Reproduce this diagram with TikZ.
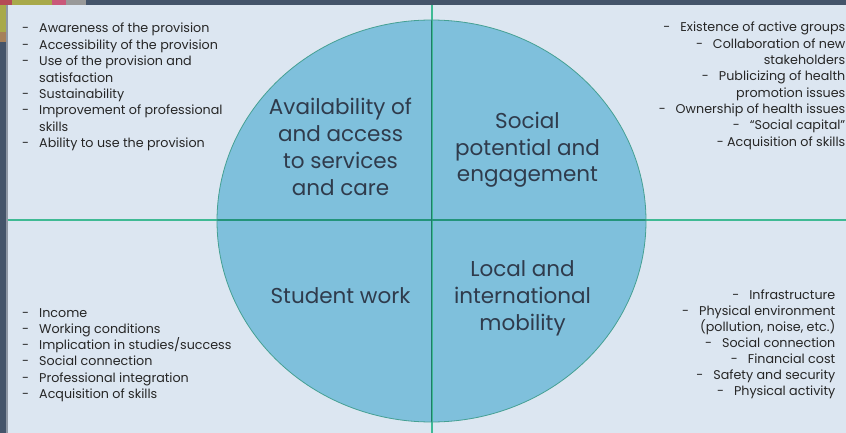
\documentclass[tikz,border=0pt]{standalone}
\usepackage{fontspec}
\setmainfont{Poppins}
\usetikzlibrary{positioning}

\definecolor{pagebg}{HTML}{DCE6F1}
\definecolor{slate}{HTML}{44546A}
\definecolor{disc}{HTML}{7FC0DC}
\definecolor{rim}{HTML}{45A093}
\definecolor{axisout}{HTML}{3FBA94}
\definecolor{axisin}{HTML}{23947A}
\definecolor{axisdark}{HTML}{1E7B69}
\definecolor{head}{HTML}{2F3B4C}
\definecolor{ink}{HTML}{262626}
\definecolor{olive}{HTML}{A8A94A}
\definecolor{rose}{HTML}{C9587A}
\definecolor{brick}{HTML}{B54A55}

\begin{document}
\begin{tikzpicture}[x=1pt,y=-1pt,
  item/.style={anchor=base west,inner sep=0pt,text=ink,font=\fontsize{12.7}{14}\selectfont},
  ritem/.style={item,anchor=base east},
  quad/.style={anchor=base,inner sep=0pt,text=head,font=\fontsize{21.5}{25}\selectfont}]
  % frame
  \useasboundingbox (0,0) rectangle (846,433);
  \fill[pagebg] (0,0) rectangle (846,433);
  \fill[slate] (0,0) rectangle (846,5);
  \fill[slate] (0,5) rectangle (7,433);
  \fill[slate!60!white] (6,5) rectangle (7.5,433);
  \fill[brick] (0,0) rectangle (12,5);
  \fill[olive] (12,0) rectangle (52,5);
  \fill[rose] (52,0) rectangle (66,5);
  \fill[gray!80] (66,0) rectangle (86,5);
  \fill[olive] (0,5) rectangle (6,32);
  \fill[brown!60!gray] (0,32) rectangle (6,42);

  % disc and axes
  \fill[disc] (431.5,221) ellipse [x radius=214.5pt,y radius=201pt];
  \draw[axisout,line width=2pt] (7.5,219.5) -- (846,219.5);
  \draw[axisout,line width=2pt] (431.5,5) -- (431.5,433);
  \begin{scope}
    \clip (431.5,221) ellipse [x radius=214.5pt,y radius=201pt];
    \draw[axisin,line width=2pt] (200,219.5) -- (660,219.5);
    \draw[axisdark,line width=1pt] (431.5,0) -- (431.5,433);
  \end{scope}
  \draw[rim,line width=0.8pt] (431.5,221) ellipse [x radius=214.5pt,y radius=201pt];

  % quadrant titles
  \foreach \l [count=\i] in {Availability of,and access,to services,and care}
    \node[quad] (avail\i) at (340.5,115+26.7*\i-26.7) {\l};
  \foreach \l [count=\i] in {Social,potential and,engagement}
    \node[quad] (social\i) at (527.5,129+26.5*\i-26.5) {\l};
  \node[quad] (work) at (340.5,303) {Student work};
  \foreach \l [count=\i] in {Local and,international,mobility}
    \node[quad] (mobil\i) at (522.5,276+27*\i-27) {\l};

  % top left list
  \foreach \d/\t [count=\i] in {-/Awareness of the provision,-/Accessibility of the provision,
      -/Use of the provision and,/satisfaction,-/Sustainability,
      -/Improvement of professional,/skills,-/Ability to use the provision}
    \node[item] (tl\i) at (22,33+16.4*\i-16.4) {\makebox[17pt][l]{\d}\t};

  % top right list
  \foreach \t [count=\i] in {-\hspace{10pt}Existence of active groups,
      -\hspace{10pt}Collaboration of new,stakeholders,
      -\hspace{10pt}Publicizing of health,promotion issues,
      -\hspace{10pt}Ownership of health issues,
      -\hspace{10pt}``Social capital'',- Acquisition of skills}
    \node[ritem] (tr\i) at (845.5,32+16.3*\i-16.3) {\t};

  % bottom left list
  \foreach \t [count=\i] in {Income,Working conditions,Implication in studies/success,
      Social connection,Professional integration,Acquisition of skills}
    \node[item] (bl\i) at (22,317+16.3*\i-16.3) {\makebox[17pt][l]{-}\t};

  % bottom right list
  \foreach \t [count=\i] in {-\hspace{10pt}Infrastructure,
      -\hspace{10pt}Physical environment,{(pollution, noise, etc.)},
      -\hspace{10pt}Social connection,-\hspace{10pt}Financial cost,
      -\hspace{10pt}Safety and security,-\hspace{10pt}Physical activity}
    \node[ritem] (br\i) at (835.5,299+16*\i-16) {\t};
\end{tikzpicture}
\end{document}
